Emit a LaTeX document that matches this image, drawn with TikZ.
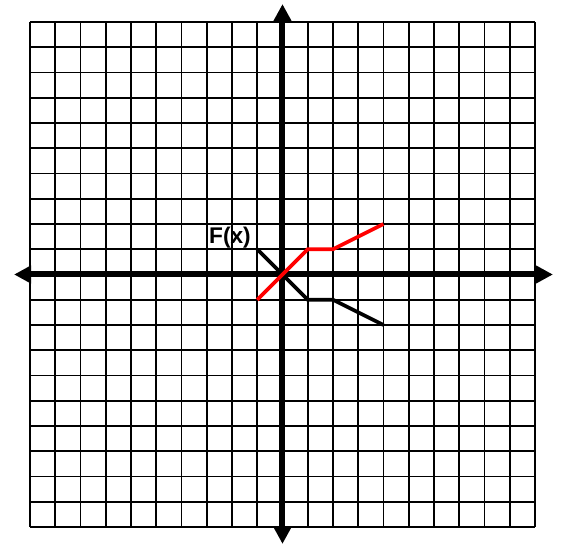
\documentclass[tikz,border=0pt]{standalone}
\usepackage{fontspec}
\setmainfont{Liberation Sans}
\usetikzlibrary{arrows.meta}
\tikzset{
  gridline/.style={line width=1.4pt, black},
  axisline/.style={line width=4.5pt, black},
  graphline/.style={line width=2.7pt, line join=miter},
  flabel/.style={font=\bfseries\fontsize{17}{18}\selectfont, inner sep=0pt}
}
\begin{document}
\begin{tikzpicture}[x=18.9375pt, y=18.9375pt]
\useasboundingbox (-11.188,-10.752) rectangle (11.030,10.871);
\fill[white] (-11.188,-10.752) rectangle (11.030,10.871);
\draw[gridline, step=18.9375pt] (-10,-10) grid (10,10);
\coordinate (ltip) at (-10.63,0);
\coordinate (rtip) at (10.71,0);
\coordinate (ttip) at (0,10.71);
\coordinate (btip) at (0,-10.67);
\draw[axisline, {Triangle[width=12.75pt,length=12.75pt]}-{Triangle[width=12.75pt,length=12.75pt]}] (ltip) -- (rtip);
\draw[axisline, {Triangle[width=12.75pt,length=12.75pt]}-{Triangle[width=12.75pt,length=12.75pt]}] (btip) -- (ttip);
\coordinate (b1) at (-1,1);
\coordinate (b2) at (1,-1);
\coordinate (b3) at (2,-1);
\coordinate (b4) at (4,-2);
\draw[graphline, black] (b1) -- (b2) -- (b3) -- (b4);
\coordinate (r1) at (-1,-1);
\coordinate (r2) at (1,1);
\coordinate (r3) at (2,1);
\coordinate (r4) at (4,2);
\draw[graphline, red] (r1) -- (r2) -- (r3) -- (r4);
\node[flabel] (F) at (-2.08,1.45) {F(x)};
\end{tikzpicture}
\end{document}
